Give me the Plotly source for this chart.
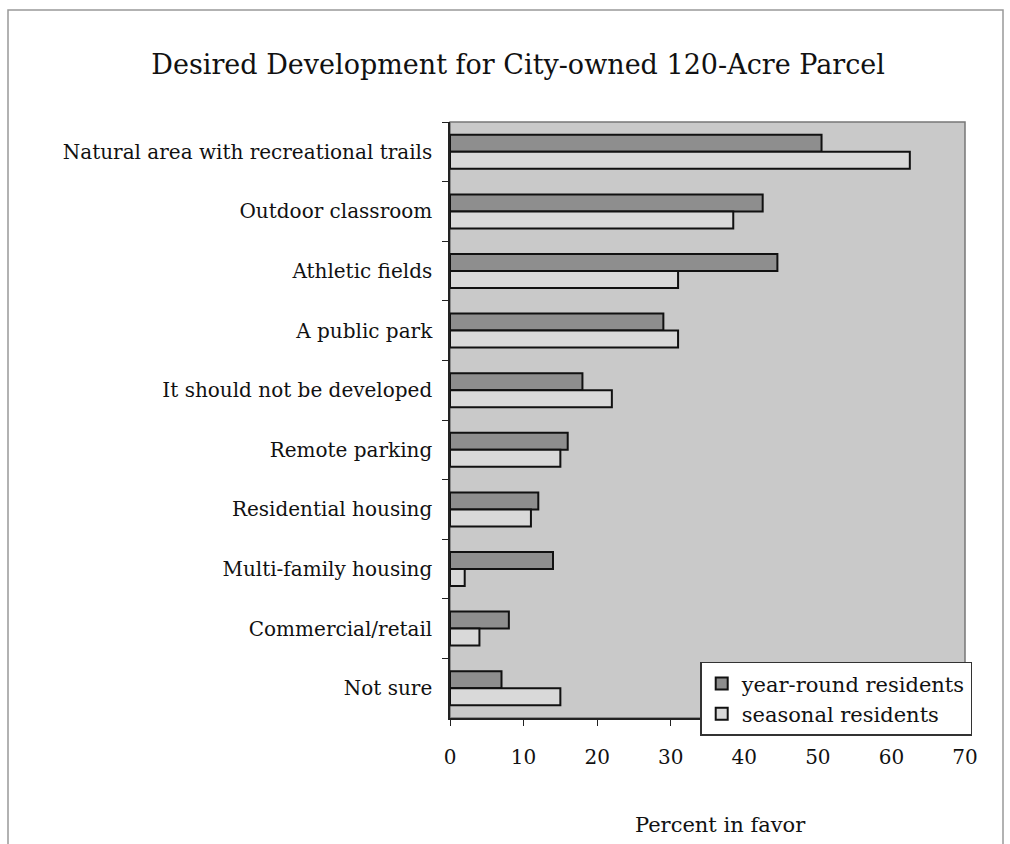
import plotly.graph_objects as go

categories = [
    "Natural area with recreational trails",
    "Outdoor classroom",
    "Athletic fields",
    "A public park",
    "It should not be developed",
    "Remote parking",
    "Residential housing",
    "Multi-family housing",
    "Commercial/retail",
    "Not sure",
]
year_round = [50.5, 42.5, 44.5, 29, 18, 16, 12, 14, 8, 7]
seasonal = [62.5, 38.5, 31, 31, 22, 15, 11, 2, 4, 15]
x_ticks = [0, 10, 20, 30, 40, 50, 60, 70]

SERIF = "DejaVu Serif, Liberation Serif, serif"

fig = go.Figure()
fig.add_trace(go.Bar(
    y=categories, x=year_round, orientation="h", name="year-round residents",
    marker=dict(color="#8e8e8e", line=dict(color="#111111", width=2)),
))
fig.add_trace(go.Bar(
    y=categories, x=seasonal, orientation="h", name="seasonal residents",
    marker=dict(color="#d9d9d9", line=dict(color="#111111", width=2)),
))

fig.update_layout(
    width=1010, height=844,
    margin=dict(l=450, r=45, t=122, b=126),
    paper_bgcolor="white",
    plot_bgcolor="#c9c9c9",
    barmode="group",
    bargap=0.43,
    bargroupgap=0.0,
    font=dict(family=SERIF, color="#111111", size=20),
    title=dict(
        text="Desired Development for City-owned 120-Acre Parcel",
        x=0.513, xanchor="center", y=0.923, yanchor="middle",
        font=dict(family=SERIF, size=27, color="#111111"),
    ),
    xaxis=dict(
        range=[0, 70], tickvals=x_ticks, ticktext=[str(v) for v in x_ticks],
        showgrid=False, zeroline=False,
        showline=True, linecolor="#222222", linewidth=1.5,
        ticks="outside", ticklen=6, tickcolor="#222222",
        tickfont=dict(size=20), ticklabelstandoff=14,
        mirror=False,
    ),
    yaxis=dict(
        autorange="reversed", showgrid=False,
        showline=True, linecolor="#222222", linewidth=1.5,
        ticks="outside", ticklen=6, tickcolor="#222222", tickson="boundaries",
        tickfont=dict(size=20), ticklabelstandoff=12,
    ),
    legend=dict(
        x=1.014, y=-0.03, xanchor="right", yanchor="bottom",
        bgcolor="white", bordercolor="#333333", borderwidth=1.5,
        font=dict(size=21), itemwidth=30, tracegroupgap=4,
    ),
    showlegend=True,
    annotations=[
        dict(text="Percent in favor", xref="paper", yref="paper",
             x=(720 - 450) / 515, y=-(825 - 718) / 596,
             xanchor="center", yanchor="middle", showarrow=False,
             font=dict(size=21)),
    ],
    shapes=[
        # light frame of the plot area
        dict(type="rect", xref="paper", yref="paper", x0=0, x1=1, y0=0, y1=1,
             line=dict(color="#777777", width=1.5), layer="below"),
        # outer chart border
        dict(type="rect", xref="paper", yref="paper",
             x0=-442 / 515, x1=1 + 38 / 515, y0=-1.3, y1=1 + 112 / 596,
             line=dict(color="#999999", width=1.5)),
    ],
)

fig.write_html("out.html")
